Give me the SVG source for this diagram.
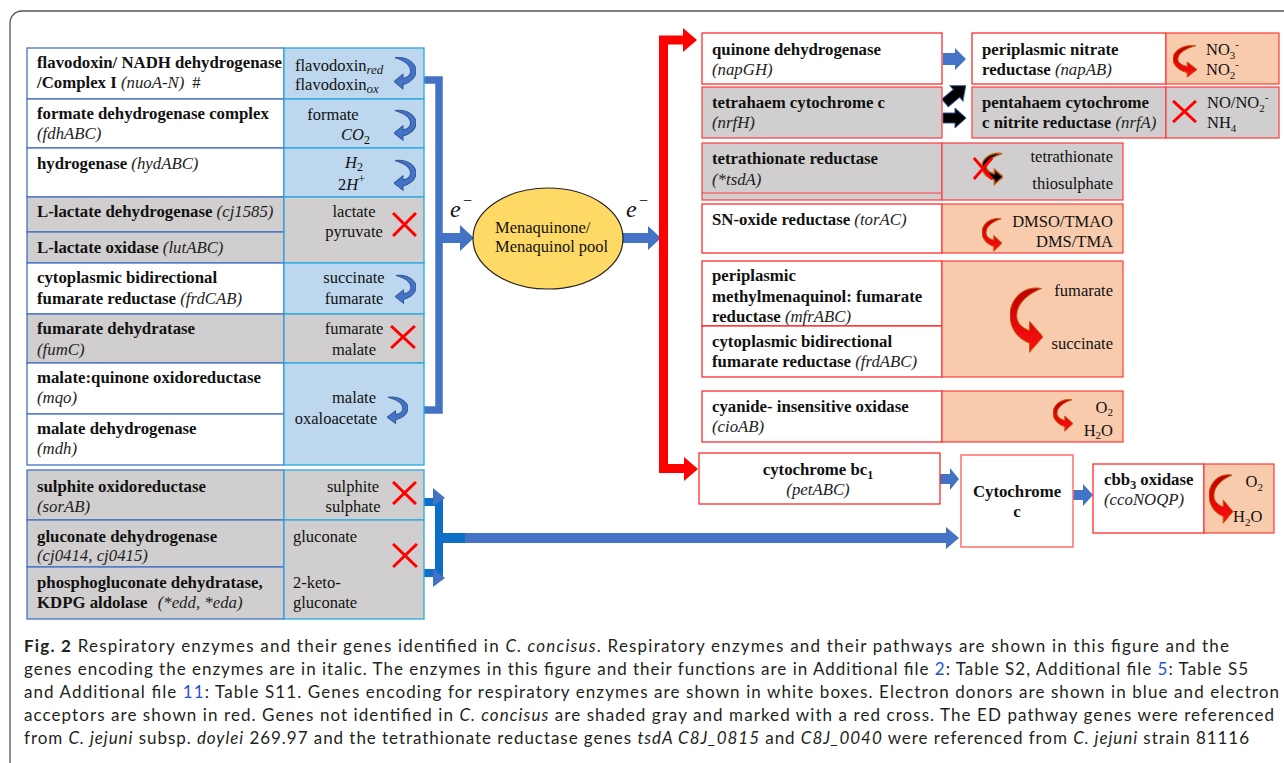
<svg xmlns="http://www.w3.org/2000/svg" width="1284" height="763" viewBox="0 0 1284 763">
<style>
.b{font-family:"Liberation Serif","Times New Roman",serif;font-weight:bold;font-size:16.8px;fill:#111}
.r{font-family:"Liberation Serif","Times New Roman",serif;font-size:16.5px;fill:#111}
.e{font-family:"Liberation Serif","Times New Roman",serif;font-size:24px;font-style:italic;fill:#111}
.m{font-family:"Liberation Serif","Times New Roman",serif;font-size:16px;fill:#111}
.i{font-style:italic;font-weight:normal;fill:#222}
.wc{fill:#fff;stroke:#4472c4;stroke-width:1.3}
.gc{fill:#d0cece;stroke:#4472c4;stroke-width:1.3}
.bc{fill:#bdd7ee;stroke:#2aa8e0;stroke-width:1.3}
.gr{fill:#d0cece;stroke:#2aa8e0;stroke-width:1.3}
.rw{fill:#fff;stroke:#ff1a1a;stroke-width:1.2}
.rg{fill:#d0cece;stroke:#ff3a3a;stroke-width:1.2}
.ro{fill:#f8cbad;stroke:#ff3a3a;stroke-width:1.2}
.ba{fill:#4472c4}
.cap{font-family:Lato,"Open Sans",sans-serif;font-size:17px;fill:#231f20}
.lk{fill:#2b4fd6}
.em{font-style:italic}
</style>
<defs>
<symbol id="barc" viewBox="0 0 22 40" preserveAspectRatio="none">
<path d="M1,3 C14,1 23,10 22,19 C21,27 15,31 9,33 L9,38 L0,29.5 L9,21 L9,26 C13,25 16.5,22.5 16.5,18 C16.5,11 10,6 1,3 Z" fill="#4472c4" stroke="#2f5597" stroke-width="1" vector-effect="non-scaling-stroke"/>
</symbol>
<linearGradient id="rg" x1="0" y1="0" x2="0" y2="1">
<stop offset="0" stop-color="#c00000"/><stop offset="1" stop-color="#ff1010"/>
</linearGradient>
<symbol id="rarc" viewBox="0 0 22 40" preserveAspectRatio="none">
<path transform="translate(22,0) scale(-1,1)" d="M1,3 C14,1 23,10 22,19 C21,27 15,31 9,33 L9,38 L0,29.5 L9,21 L9,26 C13,25 17.5,22.5 17.5,18 C17.5,11 10,6 1,3 Z" fill="url(#rg)" stroke="#c55a11" stroke-width="1" vector-effect="non-scaling-stroke"/>
</symbol>
<symbol id="karc" viewBox="0 0 22 40" preserveAspectRatio="none">
<path transform="translate(22,0) scale(-1,1)" d="M1,3 C14,1 23,10 22,19 C21,27 15,31 9,33 L9,38 L0,29.5 L9,21 L9,26 C13,25 17.5,22.5 17.5,18 C17.5,11 10,6 1,3 Z" fill="#000" stroke="#c55a11" stroke-width="1.5" vector-effect="non-scaling-stroke"/>
</symbol>
<symbol id="xm" viewBox="0 0 24 24" preserveAspectRatio="none">
<path d="M1,1 L23,23 M23,1 L1,23" stroke="#ff0000" stroke-width="3" vector-effect="non-scaling-stroke" fill="none"/>
</symbol>
</defs>

<rect x="10" y="11" width="1290" height="762" rx="12" fill="none" stroke="#555" stroke-width="1.3"/>

<!-- Connectors -->
<g id="connectors">
<path d="M424,80 H439 V410 H424" fill="none" stroke="#4472c4" stroke-width="7.5"/>
<polygon class="ba" points="437,233 460,233 460,225 474,238 460,251 460,243 437,243"/>
<polygon class="ba" points="623,233 648,233 648,226 661,238 648,250 648,243 623,243"/>
<path d="M685,40 H663.5 V468.5 H686" fill="none" stroke="#ff0000" stroke-width="9"/>
<polygon fill="#ff0000" points="683,28 697,40 683,52"/>
<polygon fill="#ff0000" points="684,457 698,469 684,481"/>
<polygon class="ba" points="943,53 955,53 955,48 966,59 955,70 955,65 943,65"/>
<polygon fill="#000" stroke="#2f5597" stroke-width="1" transform="translate(945,103) rotate(-40)" points="0,-5 15,-5 15,-10 27,0 15,10 15,5 0,5"/>
<polygon fill="#000" stroke="#2f5597" stroke-width="1" points="943,113 955,113 955,108 966,118 955,128 955,123 943,123"/>
<polygon class="ba" points="940,474 950,474 950,468 959,479 950,490 950,484 940,484"/>
<polygon class="ba" points="1073,490 1083,490 1083,484 1093,495 1083,506 1083,500 1073,500"/>
<path d="M424,502 H439 V573 H424" fill="none" stroke="#0e6ec8" stroke-width="8"/>
<polygon class="ba" points="433,488 445,498 433,506"/>
<polygon class="ba" points="433,569 445,578 433,587"/>
<line x1="439" y1="538" x2="947" y2="538" stroke="#4472c4" stroke-width="10"/>
<line x1="439" y1="538" x2="465" y2="538" stroke="#0e6ec8" stroke-width="10"/>
<polygon class="ba" points="946,527 959,538 946,549"/>
<text class="e" x="450" y="217">e</text>
<text class="m" x="463" y="206">−</text>
<text class="e" x="626" y="217">e</text>
<text class="m" x="639" y="206">−</text>
</g>

<!-- Pool -->
<g id="pool">
<ellipse cx="548" cy="238.5" rx="75" ry="50.5" fill="#ffd966" stroke="#222" stroke-width="1.2"/>
<text class="r" x="495" y="233">Menaquinone/</text>
<text class="r" x="495" y="252">Menaquinol pool</text>
</g>

<!-- Left donors -->
<g id="flavodoxin">
<rect class="wc" x="27" y="48" width="257" height="51"/>
<rect class="bc" x="284" y="48" width="140" height="51"/>
<text class="b" x="37" y="68">flavodoxin/ NADH dehydrogenase</text>
<text class="b" x="37" y="88">/Complex I <tspan class="i">(nuoA-N)</tspan><tspan font-weight="normal" dx="8">#</tspan></text>
<text class="r" x="295" y="71">flavodoxin<tspan class="i" font-size="13" dy="3">red</tspan></text>
<text class="r" x="295" y="90">flavodoxin<tspan class="i" font-size="13" dy="3">ox</tspan></text>
<use href="#barc" x="394" y="55" width="22" height="36"/>
</g>
<g id="formate">
<rect class="wc" x="27" y="99" width="257" height="49"/>
<rect class="bc" x="284" y="99" width="140" height="49"/>
<text class="b" x="37" y="119">formate dehydrogenase complex</text>
<text class="b" x="37" y="139"><tspan class="i">(fdhABC)</tspan></text>
<text class="r" x="333" y="120" text-anchor="middle">formate</text>
<text class="r" x="341" y="140"><tspan font-style="italic">CO</tspan><tspan font-size="12" dy="4">2</tspan></text>
<use href="#barc" x="394" y="108" width="22" height="34"/>
</g>
<g id="hydrogenase">
<rect class="wc" x="27" y="148" width="257" height="49"/>
<rect class="bc" x="284" y="148" width="140" height="49"/>
<text class="b" x="37" y="169">hydrogenase <tspan class="i">(hydABC)</tspan></text>
<text class="r" x="345" y="168"><tspan font-style="italic">H</tspan><tspan font-size="12" dy="3">2</tspan></text>
<text class="r" x="338" y="190">2<tspan font-style="italic">H</tspan><tspan font-size="12" dy="-7">+</tspan></text>
<use href="#barc" x="394" y="158" width="22" height="34"/>
</g>
<g id="lactate">
<rect class="gc" x="27" y="197" width="257" height="35"/>
<rect class="gc" x="27" y="232" width="257" height="31"/>
<rect class="gr" x="284" y="197" width="140" height="66"/>
<text class="b" x="37" y="217">L-lactate dehydrogenase <tspan class="i">(cj1585)</tspan></text>
<text class="b" x="37" y="253">L-lactate oxidase <tspan class="i">(lutABC)</tspan></text>
<text class="r" x="354" y="217" text-anchor="middle">lactate</text>
<text class="r" x="354" y="237" text-anchor="middle">pyruvate</text>
<use href="#xm" x="392" y="212" width="25" height="25"/>
</g>
<g id="frdCAB">
<rect class="wc" x="27" y="263" width="257" height="51"/>
<rect class="bc" x="284" y="263" width="140" height="51"/>
<text class="b" x="37" y="283">cytoplasmic bidirectional</text>
<text class="b" x="37" y="304">fumarate reductase <tspan class="i">(frdCAB)</tspan></text>
<text class="r" x="354" y="283" text-anchor="middle">succinate</text>
<text class="r" x="354" y="304" text-anchor="middle">fumarate</text>
<use href="#barc" x="395" y="273" width="21" height="32"/>
</g>
<g id="fumC">
<rect class="gc" x="27" y="314" width="257" height="49"/>
<rect class="gr" x="284" y="314" width="140" height="49"/>
<text class="b" x="37" y="334">fumarate dehydratase</text>
<text class="b" x="37" y="355"><tspan class="i">(fumC)</tspan></text>
<text class="r" x="354" y="334" text-anchor="middle">fumarate</text>
<text class="r" x="354" y="355" text-anchor="middle">malate</text>
<use href="#xm" x="390" y="325" width="26" height="24"/>
</g>
<g id="malate">
<rect class="wc" x="27" y="363" width="257" height="51"/>
<rect class="wc" x="27" y="414" width="257" height="51"/>
<rect class="bc" x="284" y="363" width="140" height="102"/>
<text class="b" x="37" y="383">malate:quinone oxidoreductase</text>
<text class="b" x="37" y="403"><tspan class="i">(mqo)</tspan></text>
<text class="b" x="37" y="434">malate dehydrogenase</text>
<text class="b" x="37" y="454"><tspan class="i">(mdh)</tspan></text>
<text class="r" x="354" y="403" text-anchor="middle">malate</text>
<text class="r" x="336" y="424" text-anchor="middle">oxaloacetate</text>
<use href="#barc" x="387" y="395" width="21" height="30"/>
</g>
<g id="sorAB">
<rect class="gc" x="27" y="470" width="257" height="50"/>
<rect class="gr" x="284" y="470" width="140" height="50"/>
<text class="b" x="37" y="492">sulphite oxidoreductase</text>
<text class="b" x="37" y="512"><tspan class="i">(sorAB)</tspan></text>
<text class="r" x="353" y="492" text-anchor="middle">sulphite</text>
<text class="r" x="353" y="512" text-anchor="middle">sulphate</text>
<use href="#xm" x="392" y="481" width="25" height="24"/>
</g>
<g id="gluconate">
<rect class="gc" x="27" y="520" width="257" height="47"/>
<rect class="gc" x="27" y="567" width="257" height="52"/>
<rect class="gr" x="284" y="520" width="140" height="99"/>
<text class="b" x="37" y="542">gluconate dehydrogenase</text>
<text class="b" x="37" y="561"><tspan class="i">(cj0414, cj0415)</tspan></text>
<text class="b" x="37" y="588">phosphogluconate dehydratase,</text>
<text class="b" x="37" y="608">KDPG aldolase <tspan class="i" dx="6">(*edd, *eda)</tspan></text>
<text class="r" x="293" y="542">gluconate</text>
<text class="r" x="293" y="588">2-keto-</text>
<text class="r" x="293" y="608">gluconate</text>
<use href="#xm" x="392" y="543" width="26" height="25"/>
</g>

<!-- Right acceptors -->
<g id="napGH">
<rect class="rw" x="702" y="33" width="240" height="51"/>
<text class="b" x="712" y="55">quinone dehydrogenase</text>
<text class="b" x="712" y="75"><tspan class="i">(napGH)</tspan></text>
</g>
<g id="napAB">
<rect class="rw" x="972" y="33" width="194" height="51"/>
<rect class="ro" x="1166" y="33" width="113" height="51"/>
<text class="b" x="982" y="55">periplasmic nitrate</text>
<text class="b" x="982" y="75">reductase <tspan class="i">(napAB)</tspan></text>
<text class="r" x="1206" y="55">NO<tspan font-size="11" dy="4">3</tspan><tspan font-size="11" dy="-11">-</tspan></text>
<text class="r" x="1206" y="75">NO<tspan font-size="11" dy="4">2</tspan><tspan font-size="11" dy="-11">-</tspan></text>
<use href="#rarc" x="1173" y="43" width="24" height="36"/>
</g>
<g id="nrfH">
<rect class="rg" x="702" y="87" width="240" height="51"/>
<text class="b" x="712" y="108">tetrahaem cytochrome c</text>
<text class="b" x="712" y="128"><tspan class="i">(nrfH)</tspan></text>
</g>
<g id="nrfA">
<rect class="rg" x="972" y="87" width="194" height="51"/>
<rect class="rg" x="1166" y="87" width="113" height="51"/>
<text class="b" x="982" y="108">pentahaem cytochrome</text>
<text class="b" x="982" y="128">c nitrite reductase <tspan class="i">(nrfA)</tspan></text>
<text class="r" x="1207" y="108">NO/NO<tspan font-size="11" dy="4">2</tspan><tspan font-size="11" dy="-11">-</tspan></text>
<text class="r" x="1207" y="128">NH<tspan font-size="11" dy="4">4</tspan></text>
<use href="#xm" x="1172" y="100" width="25" height="23"/>
</g>
<g id="tsdA">
<rect class="rg" x="702" y="143" width="240" height="57"/>
<line x1="702" y1="193" x2="942" y2="193" stroke="#ff3a3a" stroke-width="1.2"/>
<rect class="rg" x="942" y="143" width="181" height="57"/>
<text class="b" x="712" y="164">tetrathionate reductase</text>
<text class="b" x="712" y="185"><tspan class="i">(*tsdA)</tspan></text>
<text class="r" x="1113" y="162" text-anchor="end">tetrathionate</text>
<text class="r" x="1113" y="189" text-anchor="end">thiosulphate</text>
<use href="#karc" x="982" y="151" width="21" height="35"/>
<use href="#xm" x="973" y="157" width="20" height="23"/>
</g>
<g id="torAC">
<rect class="rw" x="702" y="204" width="240" height="49"/>
<rect class="ro" x="942" y="204" width="181" height="49"/>
<text class="b" x="712" y="225">SN-oxide reductase <tspan class="i">(torAC)</tspan></text>
<text class="r" x="1113" y="227" text-anchor="end">DMSO/TMAO</text>
<text class="r" x="1113" y="247" text-anchor="end">DMS/TMA</text>
<use href="#rarc" x="982" y="216" width="20" height="37"/>
</g>
<g id="fumarate-reductases">
<rect class="rw" x="702" y="261" width="240" height="65"/>
<rect class="rw" x="702" y="326" width="240" height="51"/>
<rect class="ro" x="942" y="261" width="181" height="116"/>
<text class="b" x="712" y="281">periplasmic</text>
<text class="b" x="712" y="302">methylmenaquinol: fumarate</text>
<text class="b" x="712" y="322">reductase <tspan class="i">(mfrABC)</tspan></text>
<text class="b" x="712" y="347">cytoplasmic bidirectional</text>
<text class="b" x="712" y="367">fumarate reductase <tspan class="i">(frdABC)</tspan></text>
<text class="r" x="1113" y="296" text-anchor="end">fumarate</text>
<text class="r" x="1113" y="349" text-anchor="end">succinate</text>
<use href="#rarc" x="1010" y="283" width="33" height="73"/>
</g>
<g id="cioAB">
<rect class="rw" x="702" y="391" width="240" height="51"/>
<rect class="ro" x="942" y="391" width="181" height="51"/>
<text class="b" x="712" y="412">cyanide- insensitive oxidase</text>
<text class="b" x="712" y="432"><tspan class="i">(cioAB)</tspan></text>
<text class="r" x="1113" y="413" text-anchor="end">O<tspan font-size="11" dy="3">2</tspan></text>
<text class="r" x="1113" y="436" text-anchor="end">H<tspan font-size="11" dy="3">2</tspan><tspan dy="-3">O</tspan></text>
<use href="#rarc" x="1053" y="397" width="20" height="36"/>
</g>
<g id="petABC">
<rect class="rw" x="699" y="453" width="241" height="51"/>
<text class="b" x="818" y="475" text-anchor="middle">cytochrome bc<tspan font-size="12" dy="4">1</tspan></text>
<text class="b" x="818" y="495" text-anchor="middle"><tspan class="i">(petABC)</tspan></text>
</g>
<g id="cytochrome-c">
<rect x="961" y="455" width="112" height="92" fill="#fff" stroke="#ff7070" stroke-width="1.5"/>
<text class="b" x="1017" y="497" text-anchor="middle">Cytochrome</text>
<text class="b" x="1017" y="517" text-anchor="middle">c</text>
</g>
<g id="ccoNOQP">
<rect class="rw" x="1093" y="464" width="111" height="69"/>
<rect class="ro" x="1204" y="464" width="70" height="69"/>
<text class="b" x="1104" y="485">cbb<tspan font-size="12" dy="4">3</tspan><tspan dy="-4"> oxidase</tspan></text>
<text class="b" x="1104" y="505"><tspan class="i">(ccoNOQP)</tspan></text>
<text class="r" x="1263" y="487" text-anchor="end">O<tspan font-size="11" dy="4">2</tspan></text>
<text class="r" x="1233" y="522">H<tspan font-size="11" dy="4">2</tspan><tspan dy="-4">O</tspan></text>
<use href="#rarc" x="1209" y="471" width="24" height="55"/>
</g>

<!-- Caption -->
<g id="caption">
<text class="cap" x="24" y="652" textLength="1205" lengthAdjust="spacing"><tspan font-weight="bold">Fig. 2</tspan>  Respiratory enzymes and their genes identified in <tspan class="em">C. concisus</tspan>. Respiratory enzymes and their pathways are shown in this figure and the</text>
<text class="cap" x="24" y="675" textLength="1224" lengthAdjust="spacing">genes encoding the enzymes are in italic. The enzymes in this figure and their functions are in Additional file <tspan class="lk">2</tspan>: Table S2, Additional file <tspan class="lk">5</tspan>: Table S5</text>
<text class="cap" x="24" y="698" textLength="1255" lengthAdjust="spacing">and Additional file <tspan class="lk">11</tspan>: Table S11. Genes encoding for respiratory enzymes are shown in white boxes. Electron donors are shown in blue and electron</text>
<text class="cap" x="24" y="721" textLength="1250" lengthAdjust="spacing">acceptors are shown in red. Genes not identified in <tspan class="em">C. concisus</tspan> are shaded gray and marked with a red cross. The ED pathway genes were referenced</text>
<text class="cap" x="24" y="744" textLength="1225" lengthAdjust="spacing">from <tspan class="em">C. jejuni</tspan> subsp. <tspan class="em">doylei</tspan> 269.97 and the tetrathionate reductase genes <tspan class="em">tsdA C8J_0815</tspan> and <tspan class="em">C8J_0040</tspan> were referenced from <tspan class="em">C. jejuni</tspan> strain 81116</text>
</g>
</svg>
